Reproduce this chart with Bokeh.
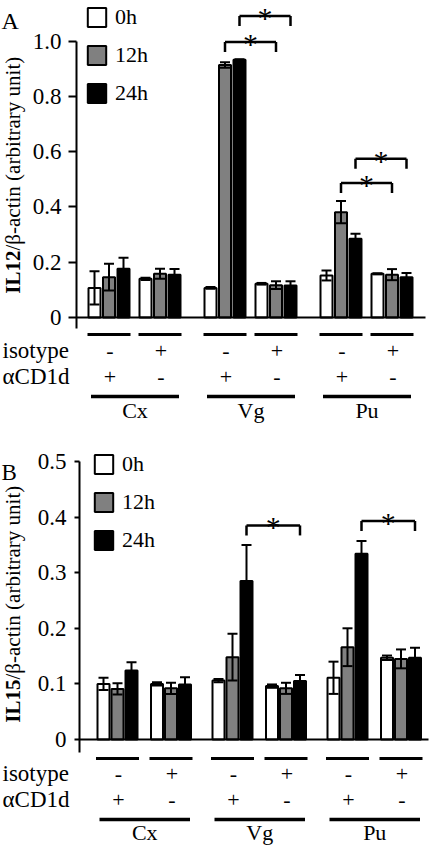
import math
from bokeh.plotting import figure
from bokeh.layouts import column
from bokeh.models import (Range1d, FixedTicker, Whisker, TeeHead, ColumnDataSource,
                          Legend, LegendItem)
from bokeh.core.properties import value
from bokeh.embed import file_html
from bokeh.resources import INLINE

# ---------------- data ----------------
tissues = ["Cx", "Vg", "Pu"]
conditions = ["αCD1d", "isotype"]
isotype_signs = ["-", "+"]
acd1d_signs = ["+", "-"]
times = ["0h", "12h", "24h"]
time_colors = ["white", "#808080", "black"]

# order of values: Cx-αCD1d, Cx-isotype, Vg-αCD1d, Vg-isotype, Pu-αCD1d, Pu-isotype
il12_0h = [0.107, 0.140, 0.107, 0.122, 0.152, 0.158]
il12_0h_sd = [0.060, 0.004, 0.003, 0.003, 0.018, 0.002]
il12_12h = [0.146, 0.158, 0.913, 0.117, 0.381, 0.155]
il12_12h_sd = [0.048, 0.018, 0.010, 0.014, 0.040, 0.020]
il12_24h = [0.176, 0.155, 0.932, 0.116, 0.285, 0.146]
il12_24h_sd = [0.040, 0.020, 0.002, 0.015, 0.018, 0.015]

il15_0h = [0.100, 0.100, 0.106, 0.096, 0.111, 0.147]
il15_0h_sd = [0.011, 0.003, 0.003, 0.003, 0.029, 0.004]
il15_12h = [0.091, 0.092, 0.148, 0.092, 0.166, 0.145]
il15_12h_sd = [0.010, 0.010, 0.042, 0.010, 0.034, 0.017]
il15_24h = [0.124, 0.099, 0.285, 0.105, 0.334, 0.147]
il15_24h_sd = [0.015, 0.013, 0.065, 0.011, 0.023, 0.018]

il12_ticks = [0, 0.2, 0.4, 0.6, 0.8, 1.0]
il12_tick_labels = ["0", "0.2", "0.4", "0.6", "0.8", "1.0"]
il15_ticks = [0, 0.1, 0.2, 0.3, 0.4, 0.5]
il15_tick_labels = ["0", "0.1", "0.2", "0.3", "0.4", "0.5"]

# significance brackets: tissue index, time index, bracket level
il12_sig_tissue = [1, 1, 2, 2]
il12_sig_time = [1, 2, 1, 2]
il12_sig_level = [0.996, 1.09, 0.486, 0.574]
il15_sig_tissue = [1, 2]
il15_sig_time = [2, 2]
il15_sig_level = [0.385, 0.393]

FONT_NAME = "Liberation Serif, Times New Roman, serif"
FONT = value(FONT_NAME)

LAYOUT_A = dict(H=430, y0=317, k=276.5, axis_x=76, base_end=425, ext=11,
                c0=108.5, C=51, T=116, B=14.5, bw=12, tick_out=8, standoff=7,
                off=[17, 33, 59, 79, 93], letter_y=20, letter_size="24px",
                ylab_x=12, ylab_j=250, leg_x=85, leg_top=10, leg_spacing=12)
LAYOUT_B = dict(H=415, y0=309, k=556, axis_x=79, base_end=428, ext=13,
                c0=117, C=53.5, T=115, B=14, bw=12, tick_out=5, standoff=8,
                off=[19, 34, 60, 80, 93], letter_y=42, letter_size="23px",
                ylab_x=12, ylab_j=249, leg_x=92, leg_top=27, leg_spacing=12)


def make_panel(letter, lab_bold, lab_rest, vals, sds, ticks, tick_labels,
               sig_t, sig_k, sig_lev, L):
    H, y0, k = L["H"], L["y0"], L["k"]

    def yv(py):
        return (y0 - py) / k

    p = figure(width=433, height=H, x_range=Range1d(0, 433),
               y_range=Range1d(yv(H), yv(0)), min_border=0,
               toolbar_location=None, output_backend="svg")
    p.outline_line_color = None
    p.grid.visible = False
    p.background_fill_color = "white"
    p.border_fill_color = "white"

    def bx(t, c, kk):
        return L["c0"] + t * L["T"] + c * L["C"] + (kk - 1) * L["B"]

    def gc(t, c):
        return L["c0"] + t * L["T"] + c * L["C"]

    renderers = []
    for kk in range(3):
        xs = [bx(t, c, kk) for t in range(3) for c in range(2)]
        src = ColumnDataSource(dict(
            x=xs, top=vals[kk],
            upper=[v + s for v, s in zip(vals[kk], sds[kk])],
            lower=[v - s for v, s in zip(vals[kk], sds[kk])]))
        r = p.vbar(x="x", top="top", bottom=0, width=L["bw"], source=src,
                   fill_color=time_colors[kk], line_color="black", line_width=2)
        renderers.append(r)
        w = Whisker(base="x", upper="upper", lower="lower", source=src,
                    line_width=2, line_color="black", level="overlay",
                    upper_head=TeeHead(size=10, line_width=2, line_color="black"),
                    lower_head=TeeHead(size=10, line_width=2, line_color="black"))
        p.add_layout(w)

    # significance brackets
    leg = 10 / k
    x0s, x1s, y0s, y1s, sx, sy = [], [], [], [], [], []
    for t, kk, lev in zip(sig_t, sig_k, sig_lev):
        xl, xr = bx(t, 0, kk), bx(t, 1, kk)
        x0s += [xl, xl, xr]
        x1s += [xr, xl, xr]
        y0s += [lev, lev, lev]
        y1s += [lev, lev - leg, lev - leg]
        sx.append((xl + xr) / 2)
        sy.append(lev - 1.5 / k)
    p.segment(x0=x0s, y0=y0s, x1=x1s, y1=y1s, line_width=2.5, line_color="black")
    p.text(x=sx, y=sy, text=["*"] * len(sx), text_font=FONT,
           text_font_size="30px", text_align="center", text_baseline="alphabetic",
           text_color="black")

    off = L["off"]
    # short lines under each condition group
    gx = [gc(t, c) for t in range(3) for c in range(2)]
    p.segment(x0=[g - 21.5 for g in gx], x1=[g + 21.5 for g in gx],
              y0=[yv(y0 + off[0])] * 6, y1=[yv(y0 + off[0])] * 6,
              line_width=3, line_color="black")
    # sign rows
    p.text(x=[g + 1 for g in gx], y=[yv(y0 + off[1])] * 6,
           text=isotype_signs * 3, text_font=FONT, text_font_size="22px",
           text_align="center", text_baseline="middle", text_color="black")
    p.text(x=[g + 1 for g in gx], y=[yv(y0 + off[2])] * 6,
           text=acd1d_signs * 3, text_font=FONT, text_font_size="22px",
           text_align="center", text_baseline="middle", text_color="black")
    p.text(x=[2, 2], y=[yv(y0 + off[1]), yv(y0 + off[2])],
           text=[conditions[1], conditions[0]], text_font=FONT,
           text_font_size="23px", text_align="left", text_baseline="middle",
           text_color="black")
    # long tissue lines and labels
    lx0 = [gc(t, 0) - 18 for t in range(3)]
    lx1 = [gc(t, 1) + 19 for t in range(3)]
    p.segment(x0=lx0, x1=lx1, y0=[yv(y0 + off[3])] * 3, y1=[yv(y0 + off[3])] * 3,
              line_width=3.5, line_color="black")
    p.text(x=[(a + b) / 2 for a, b in zip(lx0, lx1)], y=[yv(y0 + off[4])] * 3,
           text=tissues, text_font=FONT, text_font_size="22px",
           text_align="center", text_baseline="middle", text_color="black")

    # panel letter
    p.text(x=[1], y=[yv(L["letter_y"])], text=[letter], text_font=FONT,
           text_font_size=L["letter_size"], text_align="left",
           text_baseline="alphabetic", text_color="black")
    # y label (bold part + normal part)
    p.text(x=[L["ylab_x"]], y=[yv(L["ylab_j"])], text=[lab_bold], angle=math.pi / 2,
           text_font=FONT, text_font_size="21px", text_font_style="bold",
           text_align="right", text_baseline="middle", text_color="black")
    p.text(x=[L["ylab_x"]], y=[yv(L["ylab_j"])], text=[lab_rest], angle=math.pi / 2,
           text_font=FONT, text_font_size="21px",
           text_align="left", text_baseline="middle", text_color="black")

    # axes
    xa = p.xaxis[0]
    xa.fixed_location = 0
    xa.bounds = (L["axis_x"], L["base_end"])
    xa.ticker = FixedTicker(ticks=[])
    xa.major_label_text_font_size = "0px"
    xa.major_tick_line_color = None
    xa.minor_tick_line_color = None
    xa.axis_line_width = 2
    xa.axis_line_color = "black"

    ya = p.yaxis[0]
    ya.fixed_location = L["axis_x"]
    ya.bounds = (yv(y0 + L["ext"]), ticks[-1])
    ya.ticker = FixedTicker(ticks=ticks)
    ya.major_label_overrides = dict(zip(ticks, tick_labels))
    ya.major_label_text_font = FONT_NAME
    ya.major_label_text_font_size = "23px"
    ya.major_label_text_color = "black"
    ya.major_label_standoff = L["standoff"]
    ya.major_tick_out = L["tick_out"]
    ya.major_tick_in = 0
    ya.major_tick_line_width = 2
    ya.major_tick_line_color = "black"
    ya.minor_tick_line_color = None
    ya.axis_line_width = 2
    ya.axis_line_color = "black"

    # legend
    n = 3
    gh = 24
    leg_h = n * gh + (n - 1) * L["leg_spacing"]
    legend = Legend(items=[LegendItem(label=times[i], renderers=[renderers[i]])
                           for i in range(3)],
                    location=(L["leg_x"], H - L["leg_top"] - leg_h),
                    padding=0, margin=0, spacing=L["leg_spacing"],
                    glyph_width=23, glyph_height=gh, label_height=gh,
                    label_standoff=7, label_text_font=FONT_NAME,
                    label_text_font_size="22px", label_text_color="black",
                    label_text_baseline="middle",
                    border_line_color=None, background_fill_alpha=0)
    p.add_layout(legend)
    return p


pA = make_panel("A", "IL12", "/β-actin (arbitrary unit)",
                [il12_0h, il12_12h, il12_24h], [il12_0h_sd, il12_12h_sd, il12_24h_sd],
                il12_ticks, il12_tick_labels,
                il12_sig_tissue, il12_sig_time, il12_sig_level, LAYOUT_A)
pB = make_panel("B", "IL15", "/β-actin (arbitrary unit)",
                [il15_0h, il15_12h, il15_24h], [il15_0h_sd, il15_12h_sd, il15_24h_sd],
                il15_ticks, il15_tick_labels,
                il15_sig_tissue, il15_sig_time, il15_sig_level, LAYOUT_B)

layout = column(pA, pB, spacing=0)

open("out.html", "w").write(file_html(layout, INLINE))
